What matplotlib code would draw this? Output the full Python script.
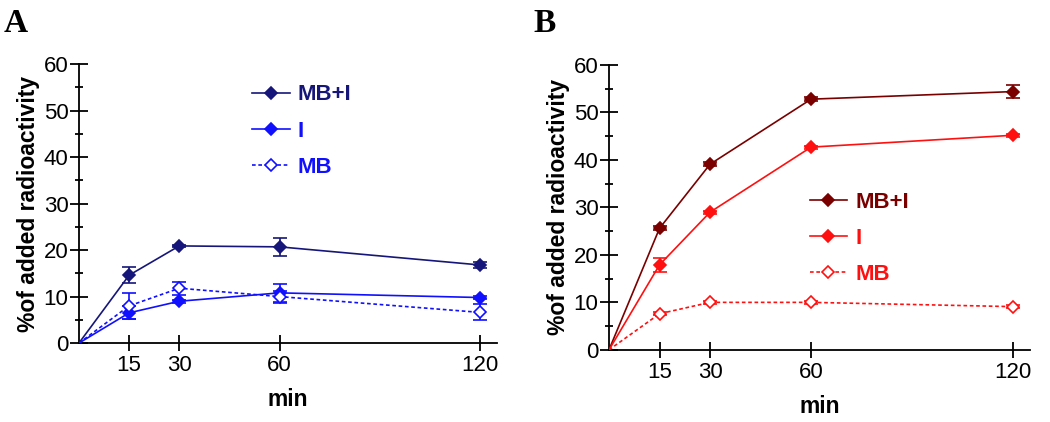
import numpy as np
import matplotlib
matplotlib.use('Agg')
import matplotlib.pyplot as plt
from matplotlib.ticker import MultipleLocator

plt.rcParams['font.family'] = ['Liberation Sans', 'DejaVu Sans']

# data (min, % of added radioactivity)
t = [0, 15, 30, 60, 120]

a_mbi = [0, 14.6, 20.9, 20.7, 16.8]
a_mbi_err = [0, 1.7, 0.3, 2.0, 0.7]
a_i = [0, 6.5, 9.0, 10.8, 9.8]
a_i_err = [0, 1.4, 0.3, 2.0, 0.4]
a_mb = [0, 8.0, 11.8, 10.0, 6.6]
a_mb_err = [0, 2.8, 1.4, 1.3, 1.7]

b_mbi = [0, 25.6, 39.1, 52.8, 54.4]
b_mbi_err = [0, 0.4, 0.4, 0.4, 1.4]
b_i = [0, 17.9, 29.0, 42.7, 45.2]
b_i_err = [0, 1.4, 0.3, 0.3, 0.3]
b_mb = [0, 7.6, 10.0, 10.0, 9.1]
b_mb_err = [0, 0.3, 0.3, 0.3, 0.3]

labels = ['MB+I', 'I', 'MB']
xticks = [15, 30, 60, 120]

fig = plt.figure(figsize=(10.5, 4.22), dpi=100)
axA = fig.add_axes([0.0752, 0.187, 0.398, 0.661])
axB = fig.add_axes([0.580, 0.171, 0.401, 0.675])


def draw(ax, series, colors):
    for (y, err, open_marker), c, lab in zip(series, colors, labels):
        ls = (0, (2.2, 1.6)) if open_marker else '-'
        fc = 'white' if open_marker else c
        ax.plot(t, y, color=c, lw=1.2, ls=ls, marker='D', ms=6,
                mfc=fc, mec=c, mew=1.2, markevery=[1, 2, 3, 4],
                label=lab, zorder=3)
        ax.errorbar(t[1:], y[1:], yerr=err[1:], fmt='none', ecolor=c,
                    elinewidth=1.2, capsize=5, capthick=1.2, zorder=2)
    ax.set_xlim(0, 125)
    ax.set_ylim(0, 60)
    ax.set_xticks(xticks)
    ax.yaxis.set_major_locator(MultipleLocator(10))
    ax.yaxis.set_minor_locator(MultipleLocator(5))
    for s in ['top', 'right']:
        ax.spines[s].set_visible(False)
    for s in ['left', 'bottom']:
        ax.spines[s].set_linewidth(1.3)
    ax.tick_params(axis='y', which='major', direction='inout', length=13,
                   width=1.3, labelsize=16, pad=1)
    ax.tick_params(axis='y', which='minor', direction='inout', length=6,
                   width=1.3)
    ax.tick_params(axis='x', which='major', direction='inout', length=11,
                   width=1.3, labelsize=16, pad=3)
    ax.set_xlabel('min', fontsize=16.5, fontweight='bold', labelpad=9)
    ax.set_ylabel('%of added radioactivity', fontsize=16.5, fontweight='bold',
                  labelpad=3)


draw(axA, [(a_mbi, a_mbi_err, False), (a_i, a_i_err, False), (a_mb, a_mb_err, True)],
     ['#16167a', '#1010ff', '#1010ff'])
draw(axB, [(b_mbi, b_mbi_err, False), (b_i, b_i_err, False), (b_mb, b_mb_err, True)],
     ['#7a0000', '#ff1010', '#ff1010'])

for ax, anchor in [(axA, (0.24, 0.80)), (axB, (0.771, 0.546))]:
    leg = ax.legend(loc='upper left', bbox_to_anchor=anchor,
                    bbox_transform=fig.transFigure, frameon=False,
                    borderpad=0, borderaxespad=0, handlelength=1.7,
                    handletextpad=0.36, labelspacing=0.68,
                    prop={'size': 16, 'weight': 'bold'})
    for txt, ln in zip(leg.get_texts(), leg.get_lines()):
        txt.set_color(ln.get_color())

fig.text(0.003, 0.924, 'A', family='Liberation Serif', fontweight='bold', fontsize=24)
fig.text(0.508, 0.924, 'B', family='Liberation Serif', fontweight='bold', fontsize=24)

fig.savefig('out.png', dpi=100)
